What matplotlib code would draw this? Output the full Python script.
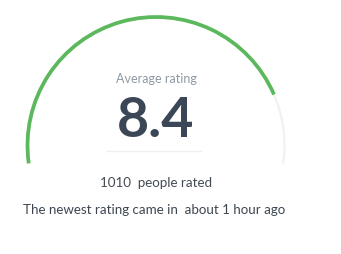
import numpy as np
import matplotlib
matplotlib.use("Agg")
import matplotlib.pyplot as plt
from matplotlib.patches import Arc

# gauge data
rating = 8.4
rating_max = 10
people = 1010
last_rating = "about 1 hour ago"

# gauge geometry (pixel units)
cx, cy = 156, 108.5
radius = 128.5
start_deg, end_deg = 188, -8

fig = plt.figure(figsize=(3.41, 2.55), dpi=100)
ax = fig.add_axes([0, 0, 1, 1])
ax.set_xlim(0, 341)
ax.set_ylim(0, 255)
ax.axis("off")

span = start_deg - end_deg
split = start_deg - span * rating / rating_max

# background track
ax.add_patch(Arc((cx, cy), 2 * radius, 2 * radius, theta1=end_deg, theta2=split,
                 color="#f1f1f1", lw=1.6))
# value
ax.add_patch(Arc((cx, cy), 2 * radius, 2 * radius, theta1=split, theta2=start_deg,
                 color="#5cb85c", lw=2.7))

ax.text(cx, 255 - 79, "Average rating", ha="center", va="center",
        fontsize=9, color="#8e99a4", family="Lato")
ax.text(cx, 255 - 121, f"{rating}", ha="center", va="center",
        fontsize=40, color="#3b4756", family="Lato", fontweight="bold")
ax.plot([107, 201], [255 - 152, 255 - 152], color="#efefef", lw=1)

ax.text(cx, 255 - 183, f"{people}  people rated", ha="center", va="center",
        fontsize=9.6, color="#444b52", family="Lato")
ax.text(23, 255 - 210, f"The newest rating came in  {last_rating}", ha="left", va="center",
        fontsize=9.6, color="#3d4650", family="Lato")

fig.savefig("out.png", dpi=100)
